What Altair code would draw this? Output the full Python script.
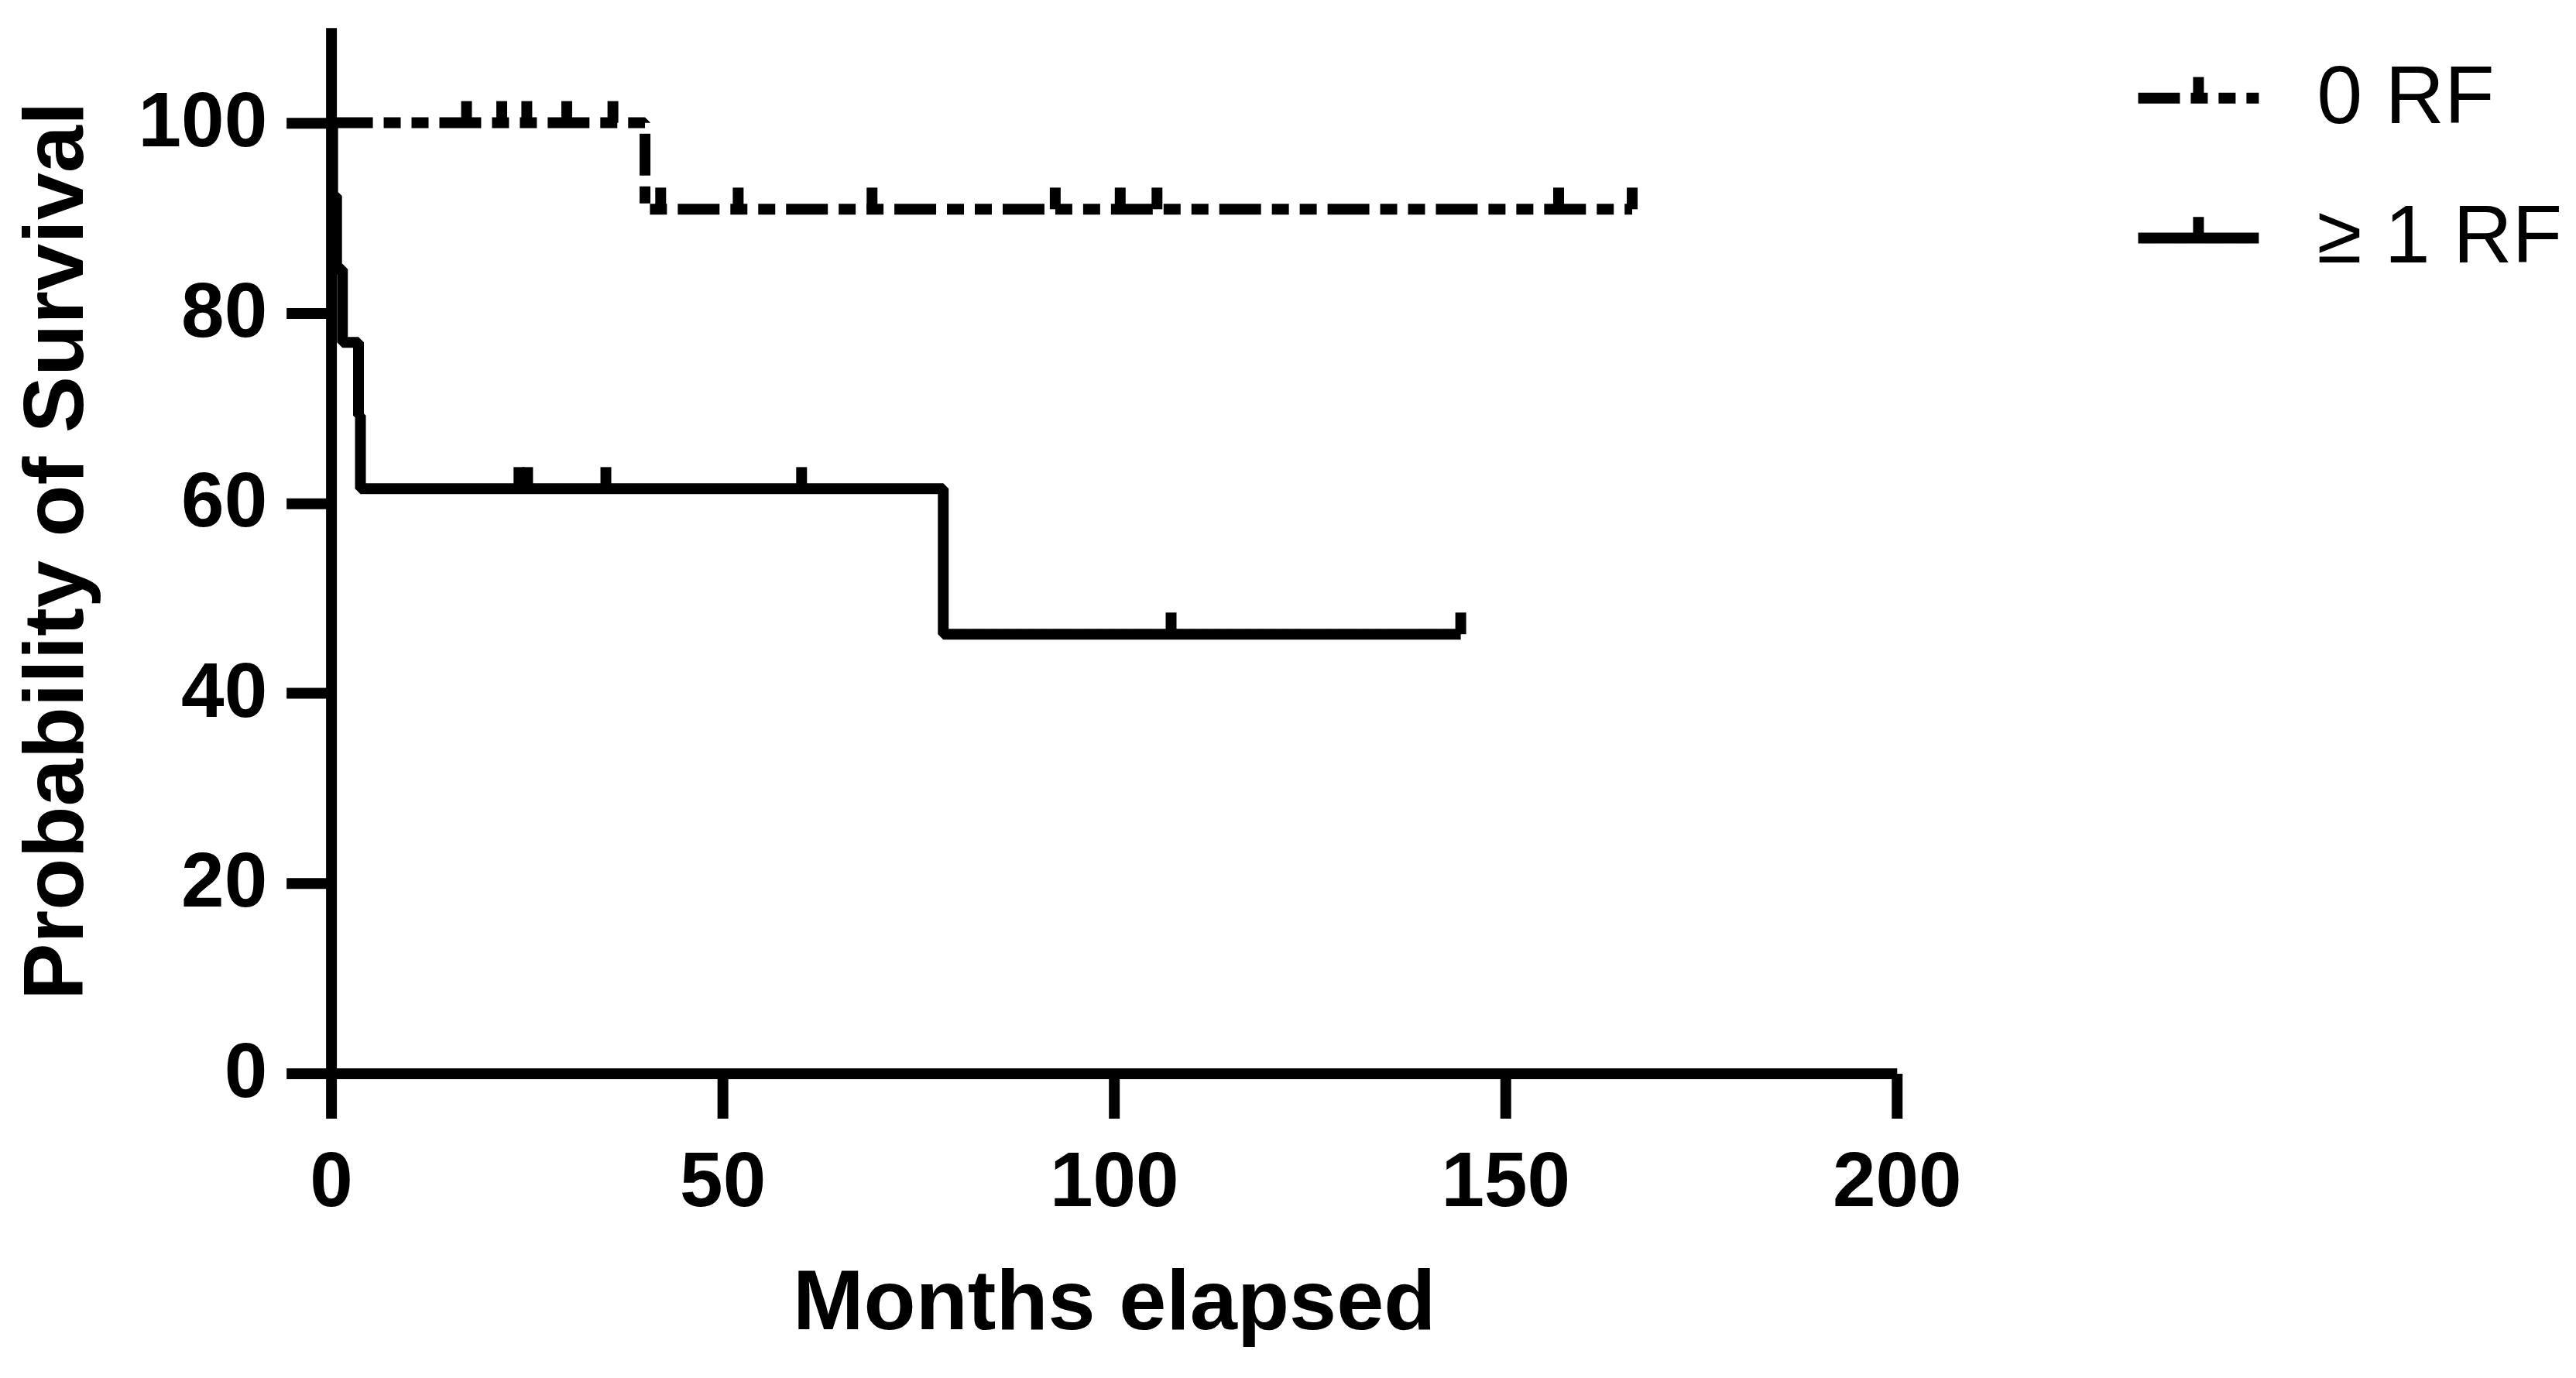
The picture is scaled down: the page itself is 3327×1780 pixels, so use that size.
import altair as alt
import pandas as pd

# ---- data ----
groups = ["0 RF", "≥ 1 RF"]

# Kaplan-Meier step points (month, survival %)
rf0_time = [0, 40.1, 166.2]
rf0_surv = [100, 90.9, 90.9]
rf1_time = [0, 0.2, 0.7, 1.45, 3.5, 3.75, 78.2, 144.3]
rf1_surv = [100, 92.3, 84.6, 76.9, 69.2, 61.5, 46.2, 46.2]

# censored observations (tick marks)
rf0_cens_time = [17.3, 21.8, 25.0, 30.1, 36.0, 42.1, 52.0, 69.1, 92.5, 100.8, 105.5, 156.8, 166.2]
rf0_cens_surv = [100, 100, 100, 100, 100, 90.9, 90.9, 90.9, 90.9, 90.9, 90.9, 90.9, 90.9]
rf1_cens_time = [24.0, 25.1, 35.1, 60.1, 107.3, 144.3]
rf1_cens_surv = [61.5, 61.5, 61.5, 61.5, 46.2, 46.2]

x_ticks = [0, 50, 100, 150, 200]
y_ticks = [0, 20, 40, 60, 80, 100]

steps = pd.concat([
    pd.DataFrame({"Months": rf0_time, "Survival": rf0_surv, "Group": groups[0]}),
    pd.DataFrame({"Months": rf1_time, "Survival": rf1_surv, "Group": groups[1]}),
], ignore_index=True)
steps["order"] = range(len(steps))

cens = pd.concat([
    pd.DataFrame({"Months": rf0_cens_time, "Survival": rf0_cens_surv, "Group": groups[0]}),
    pd.DataFrame({"Months": rf1_cens_time, "Survival": rf1_cens_surv, "Group": groups[1]}),
], ignore_index=True)

FONT = "Liberation Sans"

x_enc = alt.X(
    "Months:Q",
    scale=alt.Scale(domain=[0, 200], nice=False, zero=False),
    axis=alt.Axis(
        values=x_ticks, title="Months elapsed", grid=False,
        domainColor="black", domainWidth=14, tickColor="black", tickWidth=14, tickSize=58,
        labelFont=FONT, labelFontSize=100, labelFontWeight="bold", labelColor="black",
        labelPadding=34, labelFlush=False,
        titleFont=FONT, titleFontSize=110, titleFontWeight="bold", titleColor="black",
        titlePadding=52,
    ),
)
y_enc = alt.Y(
    "Survival:Q",
    scale=alt.Scale(domain=[0, 110], nice=False, zero=False),
    axis=alt.Axis(
        values=y_ticks, title="Probability of Survival", grid=False,
        domainColor="black", domainWidth=14, tickColor="black", tickWidth=14, tickSize=58,
        labelFont=FONT, labelFontSize=100, labelFontWeight="bold", labelColor="black",
        labelPadding=25, labelFlush=False,
        titleFont=FONT, titleFontSize=110, titleFontWeight="bold", titleColor="black",
        titlePadding=98,
    ),
)

DASH_DOT_DOT = [54, 14, 22, 14, 22, 14]

lines = alt.Chart(steps).mark_line(
    interpolate="step-after", color="black", strokeWidth=14,
    strokeJoin="bevel", clip=False,
).encode(
    x=x_enc,
    y=y_enc,
    order="order:Q",
    strokeDash=alt.StrokeDash(
        "Group:N",
        scale=alt.Scale(domain=groups, range=[DASH_DOT_DOT, [1, 0]]),
        legend=alt.Legend(
            title=None, orient="none", legendX=2329, legendY=6, padding=0,
            symbolType="M-1,0H1M0,0V-0.35", symbolSize=24336,
            symbolStrokeWidth=14, symbolStrokeColor="black", symbolFillColor="transparent",
            labelFont=FONT, labelFontSize=106, labelColor="black", labelLimit=1000,
            labelOffset=68, rowPadding=43,
        ),
    ),
)

ticks = alt.Chart(cens).mark_point(
    shape="M0,0V-1", size=3136, filled=False, color="black",
    strokeWidth=14, opacity=1, clip=False,
).encode(x="Months:Q", y="Survival:Q")

chart = alt.layer(lines, ticks).properties(
    width=2024, height=1352,
    padding={"left": 420, "top": 27, "right": 870, "bottom": 380},
    autosize=alt.AutoSizeParams(type="none"),
).configure(background="white").configure_view(stroke="transparent", strokeWidth=0)

chart.save("out.html", embed_options={"renderer": "svg", "actions": False})
